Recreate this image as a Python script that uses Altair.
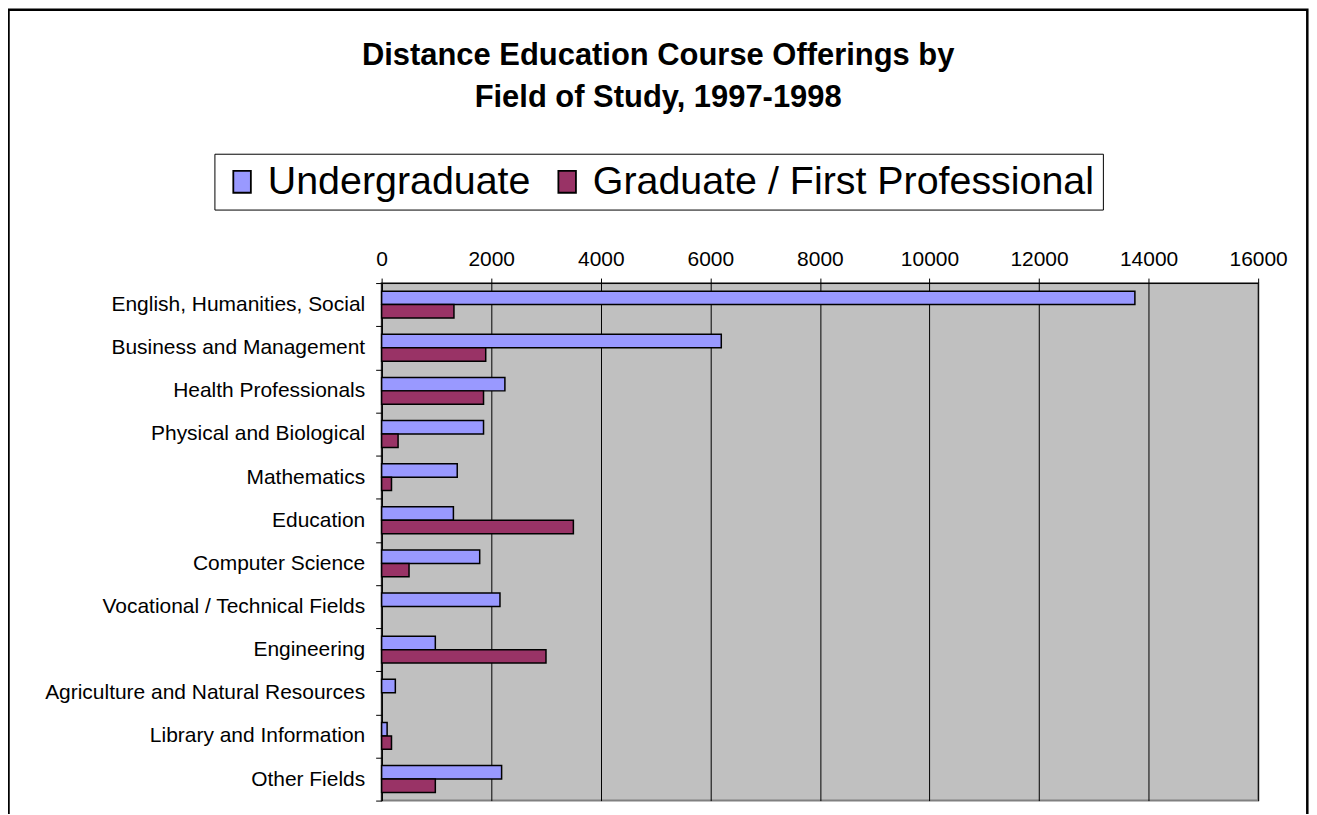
import altair as alt
import pandas as pd

categories = [
    "English, Humanities, Social",
    "Business and Management",
    "Health Professionals",
    "Physical and Biological",
    "Mathematics",
    "Education",
    "Computer Science",
    "Vocational / Technical Fields",
    "Engineering",
    "Agriculture and Natural Resources",
    "Library and Information",
    "Other Fields",
]
undergraduate = [13750, 6200, 2250, 1860, 1380, 1310, 1790, 2160, 980, 250, 100, 2190]
graduate = [1320, 1900, 1860, 300, 180, 3500, 500, 0, 3000, 0, 180, 980]
series = ["Undergraduate", "Graduate / First Professional"]
colors = ["#9999FF", "#993366"]
x_ticks = [0, 2000, 4000, 6000, 8000, 10000, 12000, 14000, 16000]
title_lines = ["Distance Education Course Offerings by", "Field of Study, 1997-1998"]

rows = []
for c, u, g in zip(categories, undergraduate, graduate):
    rows.append({"field": c, "series": series[0], "value": u})
    rows.append({"field": c, "series": series[1], "value": g})
df = pd.DataFrame(rows)

FONT = "Liberation Sans"
W, H = 879, 519
PL, PT = 374.7, 274.7

bars = (
    alt.Chart(df)
    .transform_filter("datum.value > 0")
    .mark_bar(stroke="black", strokeWidth=1.5)
    .encode(
        x=alt.X(
            "value:Q",
            scale=alt.Scale(domain=[0, 16000], nice=False, zero=True),
            axis=alt.Axis(
                orient="top",
                values=x_ticks,
                format="d",
                title=None,
                grid=True,
                gridColor="black",
                gridOpacity=1,
                gridWidth=1,
                tickSize=5,
                tickColor="black",
                domainColor="black",
                domainWidth=1,
                labelFontSize=21,
                labelFont=FONT,
                labelColor="black",
                labelPadding=9,
                labelFlush=False,
                labelOverlap=False,
            ),
        ),
        y=alt.Y(
            "field:N",
            sort=categories,
            scale=alt.Scale(paddingInner=0, paddingOuter=0),
            axis=alt.Axis(
                title=None,
                ticks=True,
                tickBand="extent",
                tickSize=6,
                tickColor="black",
                tickWidth=1,
                domainColor="black",
                domainWidth=1.5,
                labelFontSize=21,
                labelFont=FONT,
                labelColor="black",
                labelPadding=11,
                labelLimit=500,
                grid=False,
            ),
        ),
        yOffset=alt.YOffset(
            "series:N",
            sort=series,
            scale=alt.Scale(paddingOuter=0.6, paddingInner=0),
        ),
        color=alt.Color(
            "series:N",
            scale=alt.Scale(domain=series, range=colors),
            legend=alt.Legend(
                title=None,
                orient="none",
                legendX=215 - 382.7,
                legendY=153 - 282.7,
                direction="horizontal",
                strokeColor="black",
                fillColor="white",
                padding=8,
                labelFontSize=39.5,
                labelFont=FONT,
                labelColor="black",
                labelLimit=1000,
                labelOffset=6,
                columnPadding=16,
                symbolType="M-0.8,-1H0.8V1H-0.8Z",
                symbolSize=484,
                symbolStrokeColor="black",
                symbolStrokeWidth=1.8,
                symbolOpacity=1,
            ),
        ),
    )
)

title_df = pd.DataFrame({"t": title_lines, "yy": [64 - 282.7, 106 - 282.7]})
titles = (
    alt.Chart(title_df)
    .mark_text(font=FONT, fontSize=31, fontWeight="bold", color="black", align="center", baseline="alphabetic")
    .encode(text="t:N", x=alt.value(660 - 382.7), y=alt.Y("yy:Q", scale=None))
)

border = (
    alt.Chart(pd.DataFrame({"a": [0]}))
    .mark_rect(fill=None, stroke="black", strokeWidth=2.5)
    .encode(
        x=alt.value(-PL + 0.5),
        x2=alt.value(1311 - 382.7),
        y=alt.value(-PT + 0.5),
        y2=alt.value(H + 60),
    )
)

chart = (
    alt.layer(bars, titles, border)
    .properties(
        width=W,
        height=H,
        autosize=alt.AutoSizeParams(type="none"),
        padding={"left": PL, "top": PT, "right": 51, "bottom": 12},
        background="white",
    )
    .configure_view(fill="#C0C0C0", stroke="#808080", strokeWidth=2)
)

chart.save("out.html", embed_options={"renderer": "svg", "actions": False})
